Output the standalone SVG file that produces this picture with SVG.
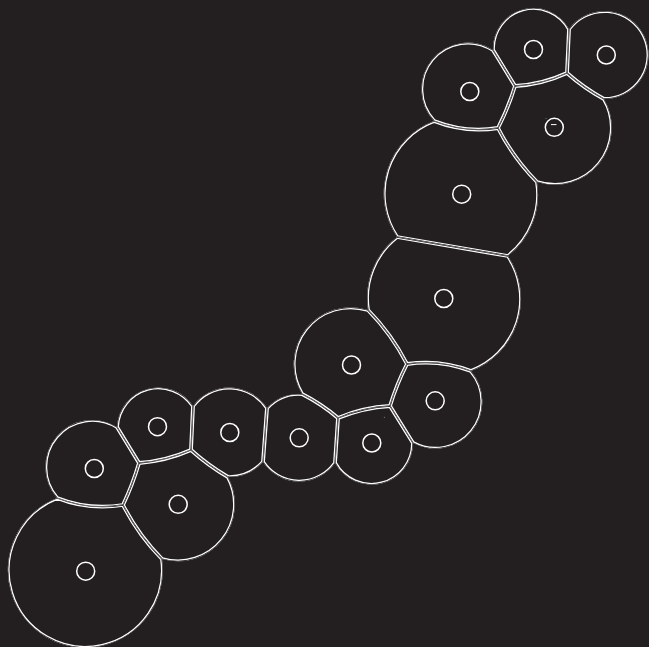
<svg xmlns="http://www.w3.org/2000/svg" xmlns:xlink="http://www.w3.org/1999/xlink" width="649" height="647" viewBox="0 0 649 647">
<style>
.wall{fill:none;stroke:#ffffff;stroke-width:3.8}
.gap{fill:none;stroke:#231f20;stroke-width:1.3}
.nuc{fill:none;stroke:#ffffff;stroke-width:1.5}
.speck{fill:#9a9a9a}
</style>
<defs>
<path id="pA" d="M493,50 A40.5,40.5 0 0 1 569,29 L567,73 Q542.3,84.5 515,86 L493,50 Z"/>
<path id="pB" d="M569,29 A44,44 0 1 1 604,99 Q584,88.1 567,73 Z"/>
<path id="pC" d="M434,121 A46.5,46.5 0 0 1 493,50 L515,86 Q508.4,107.75 498,128 Q465,133.2 434,121 Z"/>
<path id="pD" d="M604,99 A57,57 0 0 1 537,182 Q513.3,158 498,128 Q508.4,107.75 515,86 Q542.3,84.5 567,73 Q584,88.1 604,99 Z"/>
<path id="pE" d="M397,237 A77.5,77.5 0 0 1 434,121 Q465,133.2 498,128 Q513.3,158 537,182 A77.5,77.5 0 0 1 508,256 Z"/>
<path id="pF" d="M397,237 L508,256 A77,77 0 0 1 471,371 Q439.9,359 407,364 Q391.6,334.1 368,310 A77,77 0 0 1 397,237 Z"/>
<path id="pG" d="M302,394 A57,57 0 0 1 368,310 Q391.6,334.1 407,364 Q396.6,384.25 390,406 Q363,407.5 338,418 Q321.4,403.8 302,394 Z"/>
<path id="pH" d="M407,364 Q439.9,359 471,371 A47,47 0 0 1 413,443 L390,406 Q396.6,384.25 407,364 Z"/>
<path id="pI" d="M338,418 Q363,407.5 390,406 L413,443 A41.5,41.5 0 0 1 335,463 Z"/>
<path id="pJ" d="M267,408 A43.5,43.5 0 0 1 302,394 Q321.4,403.8 338,418 L335,463 A43.5,43.5 0 0 1 263,462 Z"/>
<path id="pK" d="M193,406 A45,45 0 0 1 267,408 L263,462 A45,45 0 0 1 228,477 Q208.1,465.4 191,450 Z"/>
<path id="pL" d="M117,427 A41.5,41.5 0 0 1 193,406 L191,450 Q166.1,461 139,463 Z"/>
<path id="pM" d="M57,498 A47,47 0 0 1 117,427 L139,463 Q132.7,484.6 123,505 Q89,510.6 57,498 Z"/>
<path id="pN" d="M139,463 Q166.1,461 191,450 Q208.1,465.4 228,477 A57,57 0 0 1 162,559 Q138.3,535 123,505 Q132.7,484.6 139,463 Z"/>
<path id="pO" d="M57,498 Q89,510.6 123,505 Q138.3,535 162,559 A77.5,77.5 0 1 1 57,498 Z"/>
<clipPath id="cA"><use xlink:href="#pA"/></clipPath>
<clipPath id="cB"><use xlink:href="#pB"/></clipPath>
<clipPath id="cC"><use xlink:href="#pC"/></clipPath>
<clipPath id="cD"><use xlink:href="#pD"/></clipPath>
<clipPath id="cE"><use xlink:href="#pE"/></clipPath>
<clipPath id="cF"><use xlink:href="#pF"/></clipPath>
<clipPath id="cG"><use xlink:href="#pG"/></clipPath>
<clipPath id="cH"><use xlink:href="#pH"/></clipPath>
<clipPath id="cI"><use xlink:href="#pI"/></clipPath>
<clipPath id="cJ"><use xlink:href="#pJ"/></clipPath>
<clipPath id="cK"><use xlink:href="#pK"/></clipPath>
<clipPath id="cL"><use xlink:href="#pL"/></clipPath>
<clipPath id="cM"><use xlink:href="#pM"/></clipPath>
<clipPath id="cN"><use xlink:href="#pN"/></clipPath>
<clipPath id="cO"><use xlink:href="#pO"/></clipPath>
</defs>
<rect width="649" height="647" fill="#231f20"/>
<g id="cell-A"><use xlink:href="#pA" class="wall" clip-path="url(#cA)"/><use xlink:href="#pA" class="gap" clip-path="url(#cA)"/><circle class="nuc" cx="533.5" cy="49.5" r="9"/></g>
<g id="cell-B"><use xlink:href="#pB" class="wall" clip-path="url(#cB)"/><use xlink:href="#pB" class="gap" clip-path="url(#cB)"/><circle class="nuc" cx="606.3" cy="55" r="9"/></g>
<g id="cell-C"><use xlink:href="#pC" class="wall" clip-path="url(#cC)"/><use xlink:href="#pC" class="gap" clip-path="url(#cC)"/><circle class="nuc" cx="469.8" cy="91.5" r="9"/></g>
<g id="cell-D"><use xlink:href="#pD" class="wall" clip-path="url(#cD)"/><use xlink:href="#pD" class="gap" clip-path="url(#cD)"/><circle class="nuc" cx="554.3" cy="127.3" r="9"/><line x1="551" y1="124.6" x2="556.5" y2="124.6" stroke="#ffffff" stroke-width="1"/><circle class="speck" cx="546" cy="118.3" r="0.5"/></g>
<g id="cell-E"><use xlink:href="#pE" class="wall" clip-path="url(#cE)"/><use xlink:href="#pE" class="gap" clip-path="url(#cE)"/><circle class="nuc" cx="461.7" cy="194.2" r="9"/></g>
<g id="cell-F"><use xlink:href="#pF" class="wall" clip-path="url(#cF)"/><use xlink:href="#pF" class="gap" clip-path="url(#cF)"/><circle class="nuc" cx="443.8" cy="298.5" r="9"/></g>
<g id="cell-G"><use xlink:href="#pG" class="wall" clip-path="url(#cG)"/><use xlink:href="#pG" class="gap" clip-path="url(#cG)"/><circle class="nuc" cx="351.5" cy="365" r="9"/><circle class="speck" cx="384.3" cy="417.3" r="0.5"/></g>
<g id="cell-H"><use xlink:href="#pH" class="wall" clip-path="url(#cH)"/><use xlink:href="#pH" class="gap" clip-path="url(#cH)"/><circle class="nuc" cx="435.2" cy="400.8" r="9"/></g>
<g id="cell-I"><use xlink:href="#pI" class="wall" clip-path="url(#cI)"/><use xlink:href="#pI" class="gap" clip-path="url(#cI)"/><circle class="nuc" cx="371.8" cy="443" r="9"/></g>
<g id="cell-J"><use xlink:href="#pJ" class="wall" clip-path="url(#cJ)"/><use xlink:href="#pJ" class="gap" clip-path="url(#cJ)"/><circle class="nuc" cx="299.2" cy="437.8" r="9"/></g>
<g id="cell-K"><use xlink:href="#pK" class="wall" clip-path="url(#cK)"/><use xlink:href="#pK" class="gap" clip-path="url(#cK)"/><circle class="nuc" cx="229.8" cy="432.5" r="9"/></g>
<g id="cell-L"><use xlink:href="#pL" class="wall" clip-path="url(#cL)"/><use xlink:href="#pL" class="gap" clip-path="url(#cL)"/><circle class="nuc" cx="157.5" cy="426.7" r="9"/></g>
<g id="cell-M"><use xlink:href="#pM" class="wall" clip-path="url(#cM)"/><use xlink:href="#pM" class="gap" clip-path="url(#cM)"/><circle class="nuc" cx="94.3" cy="468.5" r="9"/></g>
<g id="cell-N"><use xlink:href="#pN" class="wall" clip-path="url(#cN)"/><use xlink:href="#pN" class="gap" clip-path="url(#cN)"/><circle class="nuc" cx="178.2" cy="504.3" r="9"/></g>
<g id="cell-O"><use xlink:href="#pO" class="wall" clip-path="url(#cO)"/><use xlink:href="#pO" class="gap" clip-path="url(#cO)"/><circle class="nuc" cx="85.7" cy="571.2" r="9"/></g>
</svg>
